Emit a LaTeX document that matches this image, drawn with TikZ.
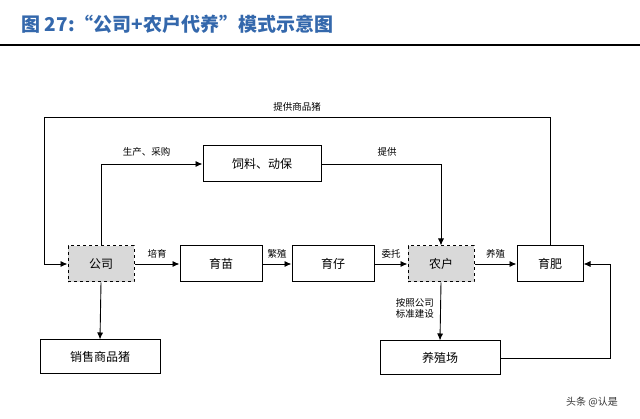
\documentclass[tikz,border=0pt]{standalone}
\usepackage{fontspec}
\setmainfont{Noto Sans CJK SC}
\usetikzlibrary{arrows.meta}
\definecolor{tblue}{RGB}{52,104,172}
\begin{document}
\begin{tikzpicture}[x=1pt,y=-1pt,
 box/.style={draw,line width=1pt,minimum width=82pt,minimum height=36pt,font=\fontsize{12}{14}\selectfont,inner sep=0pt},
 dbox/.style={box,dashed,fill=gray!30,minimum width=66pt},
 arr/.style={line width=0.9pt,-{Latex[length=7pt,width=6pt]}},
 lbl/.style={font=\fontsize{9.5}{11.5}\selectfont,align=center}]
\useasboundingbox (0,0) rectangle (640,419);
\node[anchor=west,font=\bfseries\fontsize{19}{21}\selectfont,text=tblue] (title) at (18,24) {图 27:“公司+农户代养”模式示意图};
\draw[line width=2pt] (0,45) -- (640,45);
\node[dbox] (gs) at (101,264) {公司};
\node[box] (ym) at (221,264) {育苗};
\node[box] (yz) at (333,264) {育仔};
\node[dbox] (nh) at (441,264) {农户};
\node[box,minimum width=66pt] (yf) at (550,264) {育肥};
\node[box,minimum width=118pt] (sl) at (262,164) {饲料、动保};
\node[box,minimum width=120pt,minimum height=34pt] (xs) at (100,357) {销售商品猪};
\node[box,minimum width=120pt,minimum height=34pt] (yzc) at (440,358) {养殖场};
\draw[arr] (gs) -- node[lbl,above=2pt]{培育} (ym);
\draw[arr] (ym) -- node[lbl,above=2pt]{繁殖} (yz);
\draw[arr] (yz) -- node[lbl,above=2pt]{委托} (nh);
\draw[arr] (nh) -- node[lbl,above=2pt]{养殖} (yf);
\draw[arr] (yf.north) -- (550,117) -- node[lbl,above=2pt]{提供商品猪} (44,117) -- (44,264) -- (gs.west);
\draw[arr] (gs.north) -- (101,164) -- node[lbl,above=4pt,pos=0.45]{生产、采购} (sl.west);
\draw[arr] (sl.east) -- node[lbl,above=4pt,pos=0.55]{提供} (441,164) -- (nh.north);
\draw[arr] (gs.south) -- (xs.north);
\draw[arr] (nh.south) -- node[lbl,left=3pt,pos=0.45]{按照公司\\标准建设} (yzc.north);
\draw[arr] (yzc.east) -- (610,358) -- (610,264) -- (yf.east);
\node[font=\fontsize{10}{12}\selectfont,text=black!80] (wm) at (592,402) {头条 @认是};
\end{tikzpicture}
\end{document}
